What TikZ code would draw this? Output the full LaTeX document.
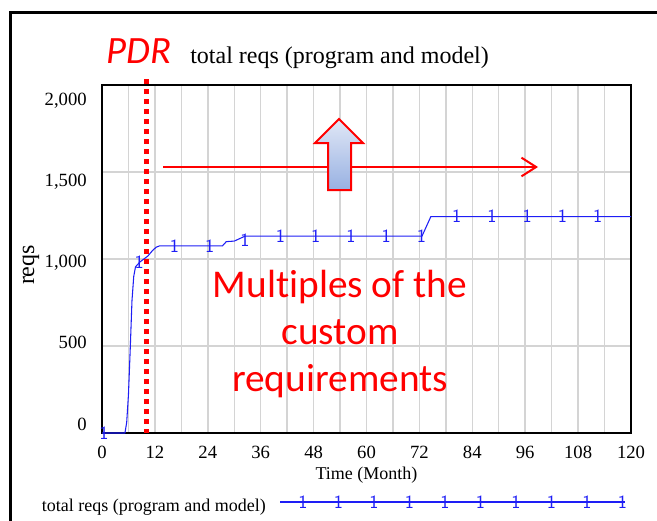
\documentclass[tikz,border=0pt]{standalone}
\usepackage{fontspec}
\setmainfont{Liberation Serif}
\newfontfamily\calibrifont[Ligatures=NoCommon]{Carlito}
\usepackage{tikz}
\usetikzlibrary{arrows.meta}

\definecolor{gridgray}{RGB}{212,212,212}
\definecolor{curveblue}{RGB}{30,30,245}
\definecolor{arrowtop}{RGB}{224,231,246}
\definecolor{arrowbot}{RGB}{152,177,226}

\begin{document}
\begin{tikzpicture}[x=0.75pt,y=-0.75pt,
            grid line/.style={draw=gridgray, line width=1.1pt},
            tick label/.style={font=\fontsize{14}{14}\selectfont, inner sep=0pt},
            req curve/.style={draw=curveblue, line width=0.8pt},
            req mark/.style={text=curveblue, font=\sffamily\fontsize{14}{14}\selectfont, inner sep=0pt, xshift=1.5pt},
            red note/.style={text=red, font=\calibrifont\fontsize{29.5}{35}\selectfont, align=center, inner sep=0pt},
            ]
            \useasboundingbox (0,0) rectangle (657,521);

            % outer frame, cut off at right and bottom
            \draw[line width=2.25pt] (10,521) -- (10,12) -- (657,12);

            % titles
            \node[anchor=base west, text=red, font=\calibrifont\itshape\fontsize{29}{29}\selectfont, inner sep=0pt] (pdr) at (106,63) {PDR};
            \node[anchor=base west, font=\fontsize{18}{18}\selectfont, inner sep=0pt] (title) at (190,63) {total reqs (program and model)};

            % y axis labels
            \foreach \v/\k in {0/0,500/1,{1,000}/2,{1,500}/3,{2,000}/4}
                \node[tick label, anchor=base east] (yl\k) at (87,430-81.25*\k) {\v};
            \node[rotate=90, font=\fontsize{18}{18}\selectfont, inner sep=0pt] (ylabel) at (31,265) {reqs};

            \begin{scope}[shift={(102,433)}, x=3.30625pt, y=0.1305pt]
                % grid
                \foreach \t in {6,12,...,114}
                    \draw[grid line] (\t,0) -- (\t,2000);
                \foreach \v in {500,1000,1500}
                    \draw[grid line] (0,\v) -- (120,\v);
                \draw[line width=1.5pt] (0,0) rectangle (120,2000);

                % x axis labels
                \foreach \t in {0,12,...,120}
                    \node[tick label, anchor=base] (xl\t) at (\t,-143.7) {\t};
                \node[anchor=base, font=\fontsize{13.5}{13.5}\selectfont, inner sep=0pt] (xlabel) at (60,-270) {Time (Month)};

                % total reqs curve
                \draw[req curve] (0,0) -- (5.2,0) -- (5.6,60) -- (6.0,220) -- (6.4,480) -- (6.8,760)
                    -- (7.2,900) -- (7.6,955) -- (8.6,983) -- (10.4,1017) -- (11.5,1050) -- (12.3,1068)
                    -- (13,1075) -- (27.3,1075) -- (28.2,1100) -- (30,1103) -- (32.5,1132)
                    -- (72.6,1132) -- (74.6,1244) -- (120,1244);
                \foreach \t/\v in {0/0,8/983,16/1075,24/1075,32/1110,40/1132,48/1132,56/1132,
                                   64/1132,72/1132,80/1244,88/1244,96/1244,104/1244,112/1244}
                    \node[req mark] (m\t) at (\t,\v) {1};

                % PDR marker line
                \coordinate (pdrtop) at (10,2034);
                \coordinate (pdrbot) at (10,0);
                \draw[red, line width=3.75pt, dash pattern=on 3.75pt off 3.75pt] (pdrtop) -- (pdrbot);
            \end{scope}

            % note and arrows
            \node[red note] (note) at (340,334) {Multiples of the\\custom\\requirements};

            \coordinate (growstart) at (163,167);
            \coordinate (growend) at (538,167);
            \draw[red, line width=1.5pt, -{Straight Barb[length=11pt, width=14pt]}] (growstart) -- (growend);

            \shadedraw[top color=arrowtop, bottom color=arrowbot, draw=red, line width=1.5pt, line join=miter]
                (339,119) -- (363,143) -- (351,143) -- (351,190) -- (328,190) -- (328,143) -- (315,143) -- cycle;

            % legend
            \node[anchor=base east, font=\fontsize{13.5}{13.5}\selectfont, inner sep=0pt] (legendtext) at (266,511) {total reqs (program and model)};
            \coordinate (lgstart) at (280,502);
            \coordinate (lgend) at (625,502);
            \draw[req curve] (lgstart) -- (lgend);
            \foreach \k in {0,...,9}
                \node[req mark] (lm\k) at (301+35.5*\k,502) {1};
        \end{tikzpicture}
\end{document}
